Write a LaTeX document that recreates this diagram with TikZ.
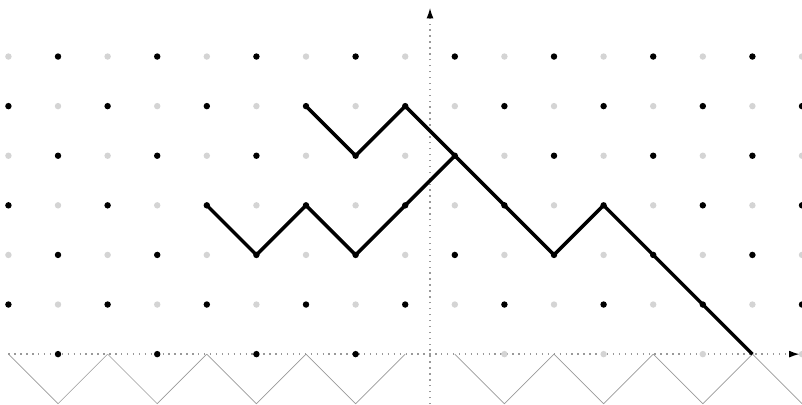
\documentclass[tikz,border=0pt]{standalone}
\usetikzlibrary{arrows.meta}
\definecolor{lightdot}{RGB}{212,212,212}
\begin{document}
\begin{tikzpicture}[
    dot/.style={circle, fill=black, inner sep=0pt, minimum size=1.3mm},
    gdot/.style={circle, fill=lightdot, inner sep=0pt, minimum size=1.3mm},
    axis/.style={draw=black!40, line width=0.8pt, dash pattern=on 0.8pt off 2.6pt, -{Latex[black, length=2.1mm, width=1.4mm]}},
    zig/.style={draw=black!40, line width=0.4pt},
    walk/.style={line width=2pt, line join=round}
]
\useasboundingbox (-8.67,-1.01) rectangle (7.5,7.14);

\draw[axis] (-8.5,0) -- (7.45,0);
\draw[axis] (0,-1.01) -- (0,6.98);

\foreach \x in {-8.5,-6.5,-4.5,-2.5,0.5,2.5,4.5}
  \draw[zig] (\x,0) -- ++(1,-1) -- ++(1,1);
\draw[zig] (6.5,0) -- (7.5,-1);

\foreach \c in {0,...,16}
  \foreach \r in {1,...,6}{
    \ifodd\numexpr\c+\r\relax
      \node[dot] (p\c-\r) at (\c-8.5,\r) {};
    \else
      \node[gdot] (p\c-\r) at (\c-8.5,\r) {};
    \fi
  }
\foreach \c in {1,3,5,7}
  \node[dot] (p\c-0) at (\c-8.5,0) {};
\foreach \c in {10,12,14,16}
  \node[gdot] (p\c-0) at (\c-8.5,0) {};
\coordinate (p15-0) at (6.5,0);

\draw[walk] (p6-5.center) -- (p7-4.center) -- (p8-5.center) -- (p9-4.center)
  -- (p10-3.center) -- (p11-2.center) -- (p12-3.center) -- (p13-2.center)
  -- (p14-1.center) -- (p15-0);
\draw[walk] (p4-3.center) -- (p5-2.center) -- (p6-3.center) -- (p7-2.center)
  -- (p8-3.center) -- (p9-4.center);
\end{tikzpicture}
\end{document}
